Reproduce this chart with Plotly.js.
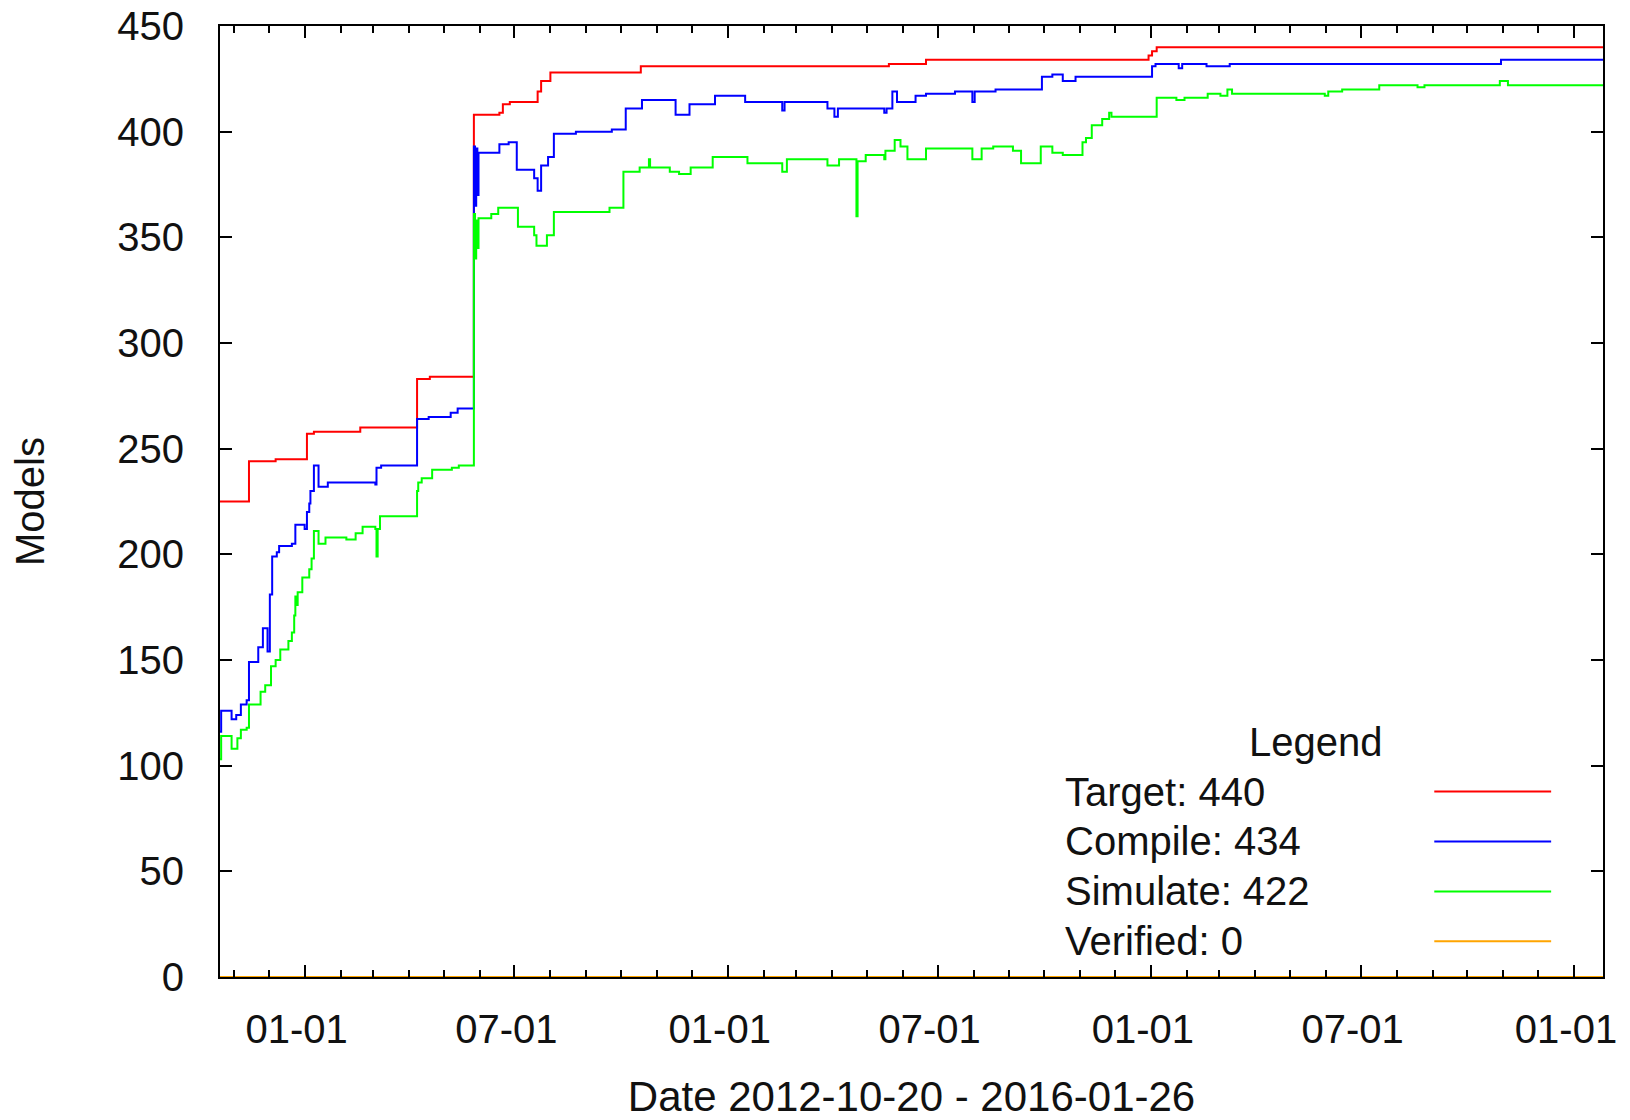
<!DOCTYPE html>
<html>
<head>
<meta charset="utf-8">
<script src="https://cdn.plot.ly/plotly-3.0.1.min.js"></script>
<style>
  html, body { margin: 0; padding: 0; background: #fff; }
  #chart { width: 1630px; height: 1120px; }
</style>
</head>
<body>
<div id="chart"></div>
<script>
// ---- Data ----
const seriesNames = ['Target', 'Compile', 'Simulate', 'Verified'];

const targetDates = ['2012-10-20','2012-11-14','2012-12-07','2013-01-03','2013-01-09','2013-02-18','2013-04-08','2013-04-19','2013-05-27','2013-06-18','2013-06-21','2013-06-27','2013-07-21','2013-07-24','2013-08-01','2013-10-18','2014-05-20','2014-06-21','2014-12-30','2015-01-02','2015-01-06','2016-01-26'];
const targetValues = [225,244,245,257,258,260,283,284,408,409,413,414,419,424,428,431,432,434,436,438,440,440];

const compileDates = ['2012-10-20','2012-10-21','2012-10-30','2012-11-03','2012-11-07','2012-11-12','2012-11-14','2012-11-22','2012-11-26','2012-11-30','2012-12-02','2012-12-04','2012-12-08','2012-12-10','2012-12-21','2012-12-24','2013-01-01','2013-01-03','2013-01-05','2013-01-06','2013-01-09','2013-01-13','2013-01-21','2013-03-03','2013-03-04','2013-03-08','2013-04-08','2013-04-18','2013-05-07','2013-05-13','2013-05-27','2013-05-28','2013-05-29','2013-05-30','2013-05-31','2013-06-18','2013-06-26','2013-07-03','2013-07-18','2013-07-21','2013-07-24','2013-07-30','2013-08-04','2013-08-23','2013-09-23','2013-10-05','2013-10-19','2013-11-17','2013-11-29','2013-12-21','2014-01-16','2014-02-17','2014-02-19','2014-03-28','2014-04-03','2014-04-06','2014-05-16','2014-05-18','2014-05-23','2014-05-27','2014-06-12','2014-06-21','2014-07-16','2014-07-31','2014-08-02','2014-08-20','2014-09-29','2014-10-08','2014-10-17','2014-10-28','2015-01-02','2015-01-05','2015-01-25','2015-01-28','2015-02-18','2015-03-10','2015-10-30','2016-01-26'];
const compileValues = [116,126,122,124,129,131,149,156,165,154,181,199,201,204,205,214,212,220,224,230,242,232,234,233,241,242,264,265,267,269,393,365,392,370,390,394,395,382,378,372,384,388,399,400,401,411,415,408,413,417,414,410,414,411,407,411,409,411,419,414,417,418,419,414,419,420,426,427,424,426,431,432,430,432,431,432,434,434];

const simulateDates = ['2012-10-20','2012-10-21','2012-10-30','2012-11-04','2012-11-07','2012-11-12','2012-11-14','2012-11-24','2012-11-28','2012-12-03','2012-12-07','2012-12-11','2012-12-18','2012-12-21','2012-12-23','2012-12-24','2012-12-25','2012-12-26','2012-12-30','2013-01-05','2013-01-07','2013-01-09','2013-01-13','2013-01-19','2013-02-06','2013-02-14','2013-02-20','2013-03-03','2013-03-04','2013-03-05','2013-03-07','2013-04-08','2013-04-09','2013-04-12','2013-04-21','2013-05-08','2013-05-14','2013-05-27','2013-05-28','2013-05-29','2013-05-30','2013-05-31','2013-06-11','2013-06-17','2013-07-04','2013-07-18','2013-07-20','2013-07-29','2013-08-04','2013-09-21','2013-10-03','2013-10-17','2013-10-25','2013-10-26','2013-11-12','2013-11-20','2013-11-30','2013-12-19','2014-01-18','2014-02-17','2014-02-21','2014-03-28','2014-04-07','2014-04-22','2014-04-23','2014-04-30','2014-05-16','2014-05-17','2014-05-25','2014-05-30','2014-06-05','2014-06-21','2014-07-31','2014-08-08','2014-08-18','2014-09-04','2014-09-11','2014-09-28','2014-10-08','2014-10-17','2014-11-03','2014-11-06','2014-11-11','2014-11-20','2014-11-26','2014-11-28','2015-01-06','2015-01-23','2015-01-30','2015-02-19','2015-03-02','2015-03-08','2015-03-12','2015-05-31','2015-06-03','2015-06-15','2015-07-17','2015-08-19','2015-08-25','2015-10-29','2015-11-05','2016-01-26'];
const simulateValues = [103,114,108,113,117,118,129,135,138,147,150,155,159,163,171,180,176,182,189,193,198,211,205,208,207,210,213,212,199,212,218,230,234,236,240,241,242,361,340,358,345,359,361,364,355,351,346,351,362,364,381,383,387,383,381,380,383,388,385,381,387,384,387,360,386,389,387,391,396,393,387,392,387,392,393,391,385,393,390,389,395,397,403,406,409,407,416,415,416,418,417,420,418,417,419,420,422,421,422,424,422,422];

const verifiedDates = ['2012-10-20','2016-01-26'];
const verifiedValues = [0,0];

const xRange = ['2012-10-20','2016-01-26'];
const xTitle = 'Date 2012-10-20 - 2016-01-26';
const yTitle = 'Models';
const legendTitle = 'Legend';

// ---- Styling ----
const colors = ['#ff0000', '#0000ff', '#00ff00', '#ffa500'];
const FONT = 'Liberation Sans, Arial, sans-serif';
const TEXT_COLOR = '#111';
const allDates = [targetDates, compileDates, simulateDates, verifiedDates];
const allValues = [targetValues, compileValues, simulateValues, verifiedValues];

const traces = allDates.map((d, i) => ({
  type: 'scatter',
  mode: 'lines',
  x: d,
  y: allValues[i],
  name: seriesNames[i],
  line: { color: colors[i], width: 2, shape: 'hv' },
  showlegend: false,
  hoverinfo: 'skip'
}));
// draw verified first so it's under others
traces.unshift(traces.pop());

// Custom gnuplot-style legend: text on the left, line sample on the right
const legTextX = 0.6097, legLineX0 = 0.878, legLineX1 = 0.9625;
const legTitleX = 0.792, legTitleY = 0.247;
const legRowY0 = 0.195, legRowStep = 0.0525;

const annotations = [{
  xref: 'paper', yref: 'paper', x: legTitleX, y: legTitleY,
  xanchor: 'center', yanchor: 'middle', showarrow: false,
  text: legendTitle, font: { family: FONT, size: 40, color: TEXT_COLOR }
}];
const shapes = [];
seriesNames.forEach((n, i) => {
  const vals = allValues[i];
  const y = legRowY0 - i * legRowStep;
  annotations.push({
    xref: 'paper', yref: 'paper', x: legTextX, y: y,
    xanchor: 'left', yanchor: 'middle', showarrow: false,
    text: n + ': ' + vals[vals.length - 1],
    font: { family: FONT, size: 40, color: TEXT_COLOR }
  });
  shapes.push({
    type: 'line', xref: 'paper', yref: 'paper',
    x0: legLineX0, x1: legLineX1, y0: y, y1: y,
    line: { color: colors[i], width: 2 }
  });
});

const layout = {
  width: 1630, height: 1120,
  margin: { l: 220, r: 27, t: 26, b: 143 },
  paper_bgcolor: '#fff', plot_bgcolor: '#fff',
  font: { family: FONT, size: 40, color: TEXT_COLOR },
  showlegend: false,
  xaxis: {
    type: 'date',
    range: xRange,
    showgrid: false, zeroline: false,
    showline: true, linecolor: '#000', linewidth: 2, mirror: 'allticks',
    ticks: 'inside', ticklen: 12, tickwidth: 2, tickcolor: '#000',
    tick0: '2013-01-01', dtick: 'M6', tickformat: '%m-%d',
    minor: { dtick: 'M1', ticks: 'inside', ticklen: 7, tickwidth: 2, tickcolor: '#000', showgrid: false },
    tickfont: { family: FONT, size: 40, color: TEXT_COLOR },
    ticklabelstandoff: 16,
    ticklabelshift: -8,
    title: { text: xTitle, font: { family: FONT, size: 42, color: TEXT_COLOR }, standoff: 41 }
  },
  yaxis: {
    range: [0, 450],
    dtick: 50, tick0: 0,
    showgrid: false, zeroline: false,
    showline: true, linecolor: '#000', linewidth: 2, mirror: 'allticks',
    ticks: 'inside', ticklen: 12, tickwidth: 2, tickcolor: '#000',
    tickfont: { family: FONT, size: 40, color: TEXT_COLOR },
    ticklabelstandoff: 26,
    title: { text: yTitle, font: { family: FONT, size: 40, color: TEXT_COLOR }, standoff: 60 }
  },
  annotations: annotations,
  shapes: shapes
};

Plotly.newPlot('chart', traces, layout, { staticPlot: true, displayModeBar: false });
</script>
</body>
</html>
